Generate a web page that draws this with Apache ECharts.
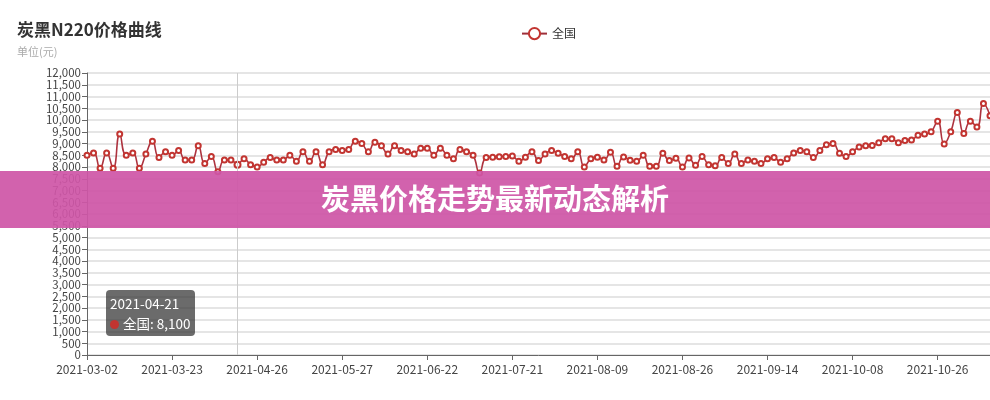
<!DOCTYPE html>
<html>
<head>
<meta charset="utf-8">
<title>炭黑N220价格曲线</title>
<script src="https://cdn.jsdelivr.net/npm/echarts@6/dist/echarts.min.js"></script>
<style>
  html, body { margin: 0; padding: 0; background: #fff; }
  #chart { width: 990px; height: 400px; }
</style>
</head>
<body>
<div id="chart"></div>
<script>
// 日期 (类目)
const dates = [
  '2021-03-02','2021-03-03','2021-03-04','2021-03-05','2021-03-08','2021-03-09','2021-03-10','2021-03-11','2021-03-12','2021-03-15','2021-03-17','2021-03-18','2021-03-19',
  '2021-03-23','2021-03-25','2021-03-29','2021-03-31','2021-04-02','2021-04-07','2021-04-09','2021-04-13','2021-04-15','2021-04-19','2021-04-21','2021-04-22','2021-04-23',
  '2021-04-26','2021-04-27','2021-04-28','2021-04-29','2021-04-30','2021-05-07','2021-05-10','2021-05-12','2021-05-14','2021-05-17','2021-05-19','2021-05-21','2021-05-25',
  '2021-05-27','2021-05-28','2021-05-31','2021-06-01','2021-06-02','2021-06-03','2021-06-04','2021-06-07','2021-06-09','2021-06-10','2021-06-11','2021-06-16','2021-06-18',
  '2021-06-22','2021-06-23','2021-06-24','2021-06-25','2021-06-28','2021-06-30','2021-07-01','2021-07-05','2021-07-07','2021-07-09','2021-07-12','2021-07-14','2021-07-16',
  '2021-07-21','2021-07-22','2021-07-23','2021-07-26','2021-07-27','2021-07-28','2021-07-29','2021-07-30','2021-08-02','2021-08-03','2021-08-04','2021-08-05','2021-08-06',
  '2021-08-09','2021-08-10','2021-08-11','2021-08-12','2021-08-13','2021-08-16','2021-08-17','2021-08-18','2021-08-19','2021-08-20','2021-08-23','2021-08-24','2021-08-25',
  '2021-08-26','2021-08-27','2021-08-30','2021-08-31','2021-09-01','2021-09-02','2021-09-03','2021-09-06','2021-09-07','2021-09-08','2021-09-09','2021-09-10','2021-09-13',
  '2021-09-14','2021-09-15','2021-09-16','2021-09-17','2021-09-18','2021-09-22','2021-09-23','2021-09-24','2021-09-26','2021-09-27','2021-09-28','2021-09-29','2021-09-30',
  '2021-10-08','2021-10-09','2021-10-11','2021-10-12','2021-10-13','2021-10-14','2021-10-15','2021-10-18','2021-10-19','2021-10-20','2021-10-21','2021-10-22','2021-10-25',
  '2021-10-26','2021-10-27','2021-10-28','2021-10-29','2021-11-01','2021-11-02','2021-11-03','2021-11-04','2021-11-05'
];

// 全国价格 (元)
const nationalPrice = [
  8500, 8600, 7950, 8600, 7950, 9400, 8500, 8600, 7950, 8550, 9100, 8400, 8650,
  8500, 8700, 8300, 8300, 8900, 8150, 8450, 7800, 8300, 8300, 8100, 8350, 8100,
  8000, 8200, 8400, 8300, 8300, 8500, 8250, 8650, 8250, 8650, 8100, 8650, 8750,
  8700, 8750, 9100, 9000, 8650, 9050, 8900, 8550, 8900, 8700, 8650, 8550, 8800,
  8800, 8500, 8800, 8500, 8350, 8750, 8650, 8500, 7750, 8400, 8420, 8440, 8450,
  8470, 8250, 8420, 8650, 8280, 8550, 8700, 8580, 8450, 8350, 8650, 8000, 8350,
  8420, 8300, 8630, 8030, 8430, 8290, 8240, 8500, 8030, 8030, 8580, 8280, 8370,
  8000, 8380, 8070, 8450, 8100, 8050, 8400, 8150, 8550, 8150, 8300, 8250, 8150,
  8350, 8400, 8200, 8350, 8600, 8700, 8650, 8400, 8700, 8950, 9000, 8580, 8450,
  8650, 8850, 8900, 8920, 9030, 9200, 9200, 9030, 9130, 9150, 9350, 9400, 9500,
  9950, 8980, 9500, 10320, 9430, 9950, 9700, 10700, 10180
];

const seriesName = '全国';
const tipIndex = dates.indexOf('2021-04-21');

const chart = echarts.init(document.getElementById('chart'));

chart.setOption({
    animation: false,
    textStyle: { fontFamily: '"Microsoft YaHei", "Noto Sans CJK SC", sans-serif' },
    title: {
        text: '炭黑N220价格曲线',
        subtext: '单位(元)',
        left: 12,
        top: 16,
        itemGap: 8,
        textStyle: { fontSize: 17, fontWeight: 'bold', color: '#333' },
        subtextStyle: { fontSize: 11, color: '#aaa' }
    },
    legend: {
        data: [seriesName],
        left: 516,
        top: 22,
        itemWidth: 25,
        itemHeight: 14,
        textStyle: { fontSize: 12, color: '#333' }
    },
    tooltip: {
        trigger: 'axis',
        alwaysShowContent: true,
        position: [106, 290],
        backgroundColor: 'rgba(50,50,50,0.72)',
        borderWidth: 0,
        borderRadius: 4,
        padding: [3, 4],
        extraCssText: 'box-shadow:none;line-height:20px;',
        textStyle: { color: '#fff', fontSize: 13.5 },
        axisPointer: { type: 'line', lineStyle: { color: '#ccc', width: 1, type: 'solid' } },
        formatter: function (params) {
            const p = params[0];
            return p.name + '<br/>' +
                '<span style="display:inline-block;margin-right:4px;border-radius:9px;width:9px;height:9px;background-color:#c23531;"></span>' +
                p.seriesName + ': ' + p.value.toLocaleString('en-US');
        }
    },
    grid: { left: 87, right: 0, top: 73, bottom: 45 },
    xAxis: {
        type: 'category',
        data: dates,
        boundaryGap: false,
        axisLine: { lineStyle: { color: '#666' } },
        axisTick: { alignWithLabel: true, interval: 12, lineStyle: { color: '#666' } },
        axisLabel: { interval: 12, color: '#444', fontSize: 12, margin: 8 },
        splitLine: { show: false }
    },
    yAxis: {
        type: 'value',
        min: 0,
        max: 12000,
        interval: 500,
        axisLine: { show: true, lineStyle: { color: '#666' } },
        axisTick: { show: true, lineStyle: { color: '#666' } },
        axisLabel: {
            color: '#444',
            fontSize: 11.5,
            lineHeight: 10,
            margin: 6,
            showMinLabel: true,
            showMaxLabel: true,
            hideOverlap: false,
            formatter: v => v.toLocaleString('en-US')
        },
        splitLine: { lineStyle: { color: '#ddd', width: 1.5 } }
    },
    series: [
        {
            name: seriesName,
            type: 'line',
            data: nationalPrice,
            smooth: true,
            symbol: 'emptyCircle',
            symbolSize: 5,
            showAllSymbol: true,
            itemStyle: { color: '#c23531', borderColor: '#b04a55', borderWidth: 1 },
            lineStyle: { color: '#9e2f3a', width: 1.6 }
        }
    ],
    graphic: [
        {
            type: 'rect',
            z: 200,
            shape: { x: 0, y: 171, width: 990, height: 57 },
            style: { fill: 'rgba(207,86,167,0.93)' }
        },
        {
            type: 'text',
            z: 201,
            x: 495,
            y: 199,
            style: {
                text: '炭黑价格走势最新动态解析',
                fill: '#fff',
                fontSize: 29,
                fontWeight: 'bold',
                fontFamily: '"Noto Sans CJK SC", sans-serif',
                align: 'center',
                verticalAlign: 'middle'
            }
        }
    ]
});

chart.dispatchAction({ type: 'showTip', seriesIndex: 0, dataIndex: tipIndex });

window.addEventListener('resize', () => chart.resize());
</script>
</body>
</html>
